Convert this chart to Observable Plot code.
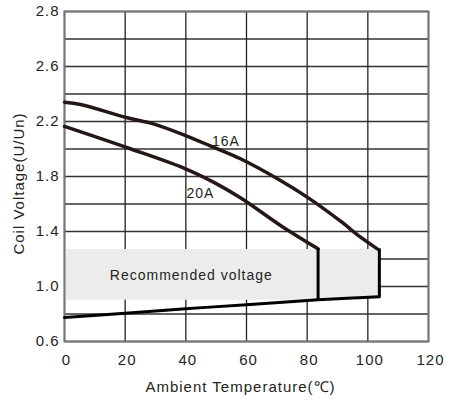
<!DOCTYPE html>
<html>
<head>
<meta charset="utf-8">
<script src="https://cdn.jsdelivr.net/npm/d3@7"></script>
<script src="https://cdn.jsdelivr.net/npm/@observablehq/plot@0.6"></script>
<style>
  html, body { margin: 0; padding: 0; background: #fff; }
</style>
</head>
<body>
<div id="chart"></div>
<script>
// ---- data ----
const xTicks = [0, 20, 40, 60, 80, 100, 120];
const yTicks = [0.6, 1.0, 1.4, 1.8, 2.2, 2.6, 3.0];
const yTickLabels = ["0.6", "1.0", "1.4", "1.8", "2.2", "2.6", "2.8"];
const gridYValues = [0.6, 0.8, 1.0, 1.2, 1.4, 1.6, 1.8, 2.0, 2.2, 2.4, 2.6, 2.8, 3.0];
const gridXValues = [0, 20, 40, 60, 80, 100, 120];

const temp16A = [0, 5.3, 20.7, 29.3, 39.9, 49.1, 58.0, 71.2, 80.0, 91.0, 97.6, 103.1];
const volt16A = [2.340, 2.324, 2.227, 2.183, 2.098, 2.013, 1.929, 1.771, 1.650, 1.475, 1.359, 1.274];

const temp20A = [0, 20.7, 39.9, 49.1, 58.0, 71.2, 80.0, 83.6];
const volt20A = [2.164, 2.009, 1.856, 1.759, 1.645, 1.444, 1.322, 1.274];

const tempMin = [0, 20, 40, 60, 83.6, 103.8];
const voltMin = [0.775, 0.805, 0.838, 0.868, 0.903, 0.925];

const bandTemp = [0, 85, 103.8];
const bandLow = [0.9, 0.9, 0.925];
const bandHigh = [1.27, 1.27, 1.27];

const limitTemp = [83.6, 103.8];
const limitLow = [0.903, 0.925];
const limitHigh = [1.274, 1.274];

const curveLabels = ["16A", "20A"];
const curveLabelX = [53.2, 44.8];
const curveLabelY = [2.057, 1.674];

const bandText = ["Recommended voltage"];
const bandTextX = [41.8];
const bandTextY = [1.08];

const xTitle = "Ambient Temperature(℃)";
const yTitle = "Coil Voltage(U/Un)";

// ---- build tables ----
const s16 = temp16A.map((t, i) => ({t, v: volt16A[i]}));
const s20 = temp20A.map((t, i) => ({t, v: volt20A[i]}));
const sMin = tempMin.map((t, i) => ({t, v: voltMin[i]}));
const band = bandTemp.map((t, i) => ({t, lo: bandLow[i], hi: bandHigh[i]}));
const limits = limitTemp.map((t, i) => ({t, lo: limitLow[i], hi: limitHigh[i]}));
const labels = curveLabels.map((s, i) => ({s, t: curveLabelX[i], v: curveLabelY[i]}));
const bandLabel = bandText.map((s, i) => ({s, t: bandTextX[i], v: bandTextY[i]}));

const ink = "#231815";

const chart = Plot.plot({
  width: 451,
  height: 400,
  marginLeft: 64,
  marginRight: 23,
  marginTop: 11,
  marginBottom: 59,
  style: {fontFamily: "'Liberation Sans', Arial, sans-serif", fontSize: "15px", color: "#231f20", letterSpacing: "1px", background: "#fff"},
  x: {domain: [0, 120], label: null},
  y: {domain: [0.6, 3.0], label: null},
  marks: [
    Plot.ruleY(gridYValues, {stroke: "#333", strokeWidth: 1.3}),
    Plot.ruleX(gridXValues, {stroke: "#222", strokeWidth: 1.3}),
    Plot.areaY(band, {x: "t", y1: "lo", y2: "hi", fill: "#ececec"}),
    Plot.frame({stroke: "#777", strokeWidth: 2}),
    Plot.line(s16, {x: "t", y: "v", stroke: ink, strokeWidth: 3.5, curve: "catmull-rom"}),
    Plot.line(s20, {x: "t", y: "v", stroke: ink, strokeWidth: 3.5, curve: "catmull-rom"}),
    Plot.line(sMin, {x: "t", y: "v", stroke: "#000", strokeWidth: 3, curve: "catmull-rom"}),
    Plot.ruleX(limits, {x: "t", y1: "lo", y2: "hi", stroke: "#000", strokeWidth: 3}),
    Plot.text(labels, {x: "t", y: "v", text: "s", fontSize: 14, fill: "#231f20", style: "letter-spacing:0.5px"}),
    Plot.text(bandLabel, {x: "t", y: "v", text: "s", fontSize: 14, fill: "#231f20"}),
    Plot.axisY({ticks: yTicks, tickFormat: d => yTickLabels[yTicks.indexOf(d)], tickSize: 0, tickPadding: 5, fontSize: 15, fill: "#231f20", label: null}),
    Plot.axisX({ticks: xTicks, tickFormat: d => String(d), tickSize: 0, tickPadding: 13, dx: 2, fontSize: 15, fill: "#231f20", label: null}),
    Plot.text([xTitle], {frameAnchor: "bottom", textAnchor: "middle", lineAnchor: "middle", dx: -6, dy: 46, fontSize: 15, fill: "#231f20"}),
    Plot.text([yTitle], {frameAnchor: "left", textAnchor: "middle", lineAnchor: "middle", rotate: -90, dx: -45, dy: 7, fontSize: 15, fill: "#231f20"})
  ]
});
document.getElementById("chart").appendChild(chart);
</script>
</body>
</html>
